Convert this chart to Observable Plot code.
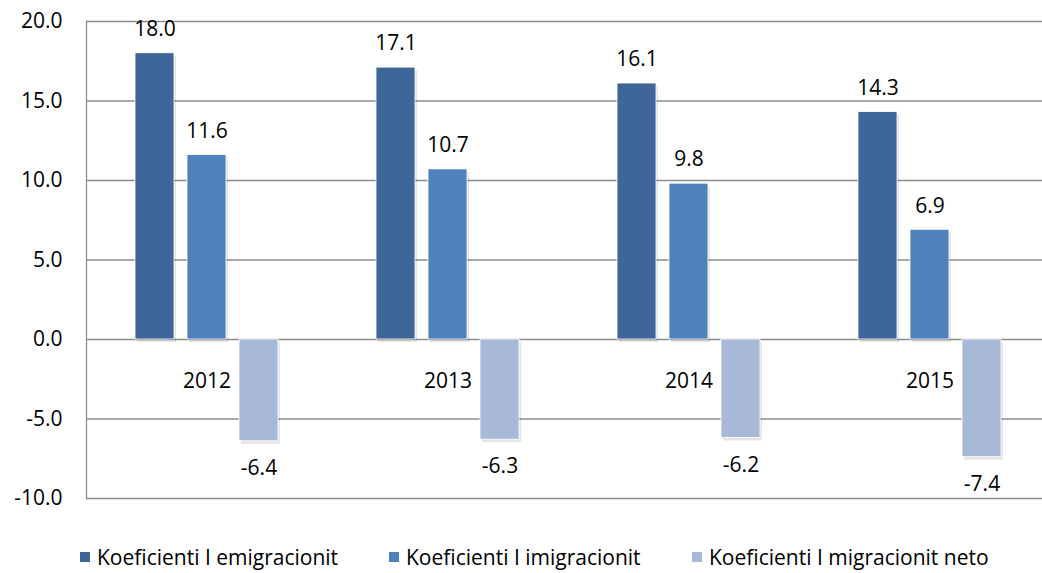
<!DOCTYPE html>
<html>
<head>
<meta charset="utf-8">
<script src="https://cdn.jsdelivr.net/npm/d3@7"></script>
<script src="https://cdn.jsdelivr.net/npm/@observablehq/plot@0.6"></script>
<style>
  html, body { margin: 0; padding: 0; background: #fff; overflow: hidden; }
  #wrap { position: relative; width: 1042px; height: 573px; font-family: "Open Sans", sans-serif; }
  #legend { position: absolute; top: 546px; left: 0; width: 1042px; height: 22px; }
  .item { position: absolute; top: 0; height: 22px; line-height: 22px; display: flex; align-items: center; font-size: 21px; color: #000; white-space: nowrap; }
  .sw { width: 10px; height: 10px; margin-right: 7px; display: inline-block; }
</style>
</head>
<body>
<div id="wrap"><div id="chart"></div><div id="legend"></div></div>
<script>
const years = ["2012", "2013", "2014", "2015"];
const series = ["Koeficienti I emigracionit", "Koeficienti I imigracionit", "Koeficienti I migracionit neto"];
const emigracionit = [18.0, 17.1, 16.1, 14.3];
const imigracionit = [11.6, 10.7, 9.8, 6.9];
const migracionitNeto = [-6.4, -6.3, -6.2, -7.4];
const yTicks = [-10, -5, 0, 5, 10, 15, 20];
const colors = ["#3e6698", "#4f81bd", "#a8b9d8"];
const yearLabelY = -2.6;

const values = [emigracionit, imigracionit, migracionitNeto];
const data = years.flatMap((year, i) =>
  series.map((s, j) => ({year, series: s, value: values[j][i]}))
);
const fmt = v => v.toFixed(1);

const chart = Plot.plot({
  width: 1042,
  height: 520,
  marginLeft: 86,
  marginRight: -8,
  marginTop: 21,
  marginBottom: 22,
  style: {fontFamily: "Open Sans", fontSize: "21px", color: "#000", background: "transparent"},
  fx: {domain: years, padding: 0, axis: null, label: null},
  x: {domain: series, paddingInner: 0.245, paddingOuter: 0.906, axis: null},
  y: {domain: [-10, 20], axis: null},
  color: {domain: series, range: colors},
  marks: [
    Plot.ruleY(yTicks, {stroke: "#8c8c8c", strokeWidth: 1.3}),
    Plot.frame({anchor: "left", stroke: "#8c8c8c", strokeWidth: 1.3, facetAnchor: "left"}),
    Plot.barY(data, {fx: "year", x: "series", y: "value", fill: "#000", fillOpacity: 0.10, dx: 2, dy: 3}),
    Plot.barY(data, {fx: "year", x: "series", y: "value", fill: "series", stroke: "#ffffff", strokeWidth: 0.8}),
    Plot.text(data.filter(d => d.value >= 0), {fx: "year", x: "series", y: "value", text: d => fmt(d.value), dy: -24, fill: "#000", fontSize: 21}),
    Plot.text(data.filter(d => d.value < 0), {fx: "year", x: "series", y: "value", text: d => fmt(d.value), dy: 27, fill: "#000", fontSize: 21}),
    Plot.text(years, {fx: d => d, y: () => yearLabelY, text: d => d, fill: "#000", fontSize: 21}),
    Plot.axisY({ticks: yTicks, tickSize: 0, tickPadding: 24, tickFormat: fmt, fontSize: 21, fill: "#000", label: null})
  ]
});
document.getElementById("chart").appendChild(chart);

const legend = document.getElementById("legend");
const lefts = [80, 389, 692];
series.forEach((s, i) => {
  const item = document.createElement("div");
  item.className = "item";
  item.style.left = lefts[i] + "px";
  const sw = document.createElement("span");
  sw.className = "sw";
  sw.style.background = colors[i];
  const t = document.createElement("span");
  t.textContent = s;
  item.appendChild(sw);
  item.appendChild(t);
  legend.appendChild(item);
});
</script>
</body>
</html>
